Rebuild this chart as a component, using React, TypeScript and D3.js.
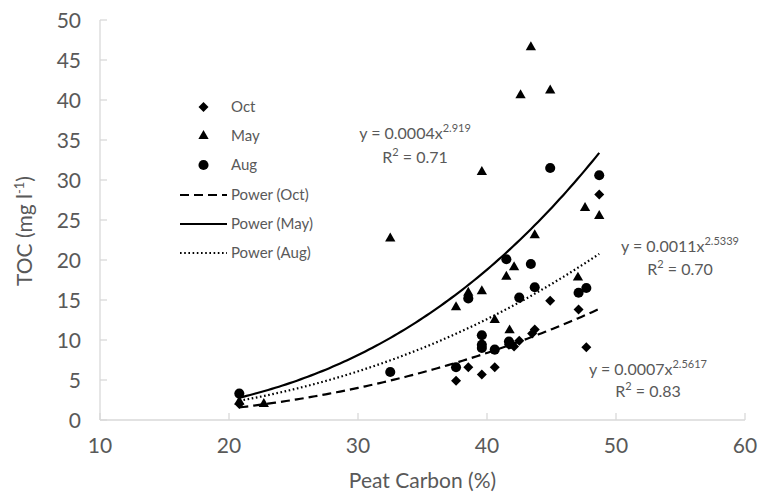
import React from "react";
import * as d3 from "d3";

// Peat carbon (%) vs TOC (mg l-1), three sampling months
const octX = [20.8, 37.6, 38.55, 39.6, 40.6, 41.7, 42.1, 42.5, 43.5, 43.7, 44.9, 47.1, 47.7, 48.7];
const octY = [2.0, 4.9, 6.6, 5.7, 6.6, 9.4, 9.2, 9.9, 10.8, 11.3, 14.9, 13.8, 9.1, 28.2];

const mayX = [20.8, 22.7, 32.5, 37.6, 38.55, 39.6, 39.6, 40.6, 41.5, 41.75, 42.1, 42.6, 43.4, 43.7, 44.9, 47.05, 47.6, 48.7];
const mayY = [2.3, 2.0, 22.7, 14.1, 15.9, 16.1, 31.0, 12.5, 17.9, 11.2, 19.1, 40.6, 46.6, 23.1, 41.2, 17.8, 26.5, 25.5];

const augX = [20.8, 32.5, 37.6, 38.55, 39.6, 39.6, 39.6, 40.6, 41.5, 41.7, 41.8, 42.5, 43.4, 43.7, 44.9, 47.1, 47.7, 48.7];
const augY = [3.3, 6.0, 6.6, 15.2, 10.6, 9.4, 9.0, 8.8, 20.1, 9.8, 9.5, 15.3, 19.5, 16.6, 31.5, 15.9, 16.5, 30.6];

// Power trendlines y = a * x^b (order: Oct, May, Aug)
const powerA = [0.00066, 0.000396, 0.0011];
const powerB = [2.5617, 2.919, 2.5339];
const rSquared = ["0.83", "0.71", "0.70"];
const fitRange = [20.8, 48.7];

const xTicks = [10, 20, 30, 40, 50, 60];
const yTicks = [0, 5, 10, 15, 20, 25, 30, 35, 40, 45, 50];

const legendLabels = ["Oct", "May", "Aug", "Power (Oct)", "Power (May)", "Power (Aug)"];

const W = 772;
const H = 493;
const textColor = "#595959";
const axisColor = "#d9d9d9";
const font = "Lato, 'Open Sans', sans-serif";

const x = d3.scaleLinear().domain([10, 60]).range([100, 745]);
const y = d3.scaleLinear().domain([0, 50]).range([420, 20]);

const diamond = d3.symbol(d3.symbolSquare, 50)()!;
const triangle = d3.symbol(d3.symbolTriangle, 46)()!;
const circle = d3.symbol(d3.symbolCircle, 80)()!;

const dashes = ["9,5", "none", "1.6,2.6"];

// Equation label anchors (centre x, baseline of first line, baseline of second line)
const eqPos = [
  { cx: 648, y1: 375, y2: 397 },
  { cx: 415, y1: 139, y2: 163 },
  { cx: 680, y1: 252, y2: 275 },
];

function Marker({ shape, px, py }: { shape: string; px: number; py: number }) {
  if (shape === "diamond") {
    return <path d={diamond} transform={`translate(${px},${py}) rotate(45)`} fill="#000" />;
  }
  if (shape === "triangle") {
    return <path d={triangle} transform={`translate(${px},${py})`} fill="#000" />;
  }
  return <path d={circle} transform={`translate(${px},${py})`} fill="#000" />;
}

export default function App() {
  const series = [
    { xs: octX, ys: octY, shape: "diamond" },
    { xs: mayX, ys: mayY, shape: "triangle" },
    { xs: augX, ys: augY, shape: "circle" },
  ];

  const fitXs = d3.range(0, 101).map((i) => fitRange[0] + ((fitRange[1] - fitRange[0]) * i) / 100);
  const trendPaths = powerA.map((a, k) =>
    d3
      .line<number>()
      .x((v) => x(v))
      .y((v) => y(a * Math.pow(v, powerB[k])))(fitXs)!
  );

  const legendShapes = ["diamond", "triangle", "circle"];
  const legendY = [107, 136, 165, 195, 224, 253];

  return (
    <svg
      width={W}
      height={H}
      style={{ position: "absolute", left: 0, top: 0, background: "#fff" }}
      fontFamily={font}
    >
      {/* axes */}
      <line x1={x(10)} x2={x(60)} y1={y(0)} y2={y(0)} stroke={axisColor} strokeWidth={1.3} />
      <line x1={x(10)} x2={x(10)} y1={y(0)} y2={y(50)} stroke={axisColor} strokeWidth={1.3} />
      {xTicks.map((t) => (
        <g key={"xt" + t}>
          <line x1={x(t)} x2={x(t)} y1={y(0)} y2={y(0) - 7} stroke={axisColor} strokeWidth={1.3} />
          <text x={x(t)} y={453} textAnchor="middle" fontSize={21} fill={textColor}>
            {t}
          </text>
        </g>
      ))}
      {yTicks.map((t) => (
        <g key={"yt" + t}>
          <line x1={x(10)} x2={x(10) + 7} y1={y(t)} y2={y(t)} stroke={axisColor} strokeWidth={1.3} />
          <text x={81} y={y(t) + 7.5} textAnchor="end" fontSize={21} fill={textColor}>
            {t}
          </text>
        </g>
      ))}

      {/* axis titles */}
      <text x={422.5} y={488} textAnchor="middle" fontSize={21} fill={textColor}>
        Peat Carbon (%)
      </text>
      <text
        transform="translate(32,231) rotate(-90)"
        textAnchor="middle"
        fontSize={21}
        fill={textColor}
      >
        TOC (mg l
        <tspan fontSize={13} dy={-8}>
          -1
        </tspan>
        <tspan dy={8}>)</tspan>
      </text>

      {/* power trendlines */}
      {trendPaths.map((d, k) => (
        <path
          key={"tr" + k}
          d={d}
          fill="none"
          stroke="#000"
          strokeWidth={2.2}
          strokeDasharray={dashes[k]}
        />
      ))}

      {/* observations */}
      {series.map((s, k) =>
        s.xs.map((v, i) => (
          <Marker key={`m${k}-${i}`} shape={s.shape} px={x(v)} py={y(s.ys[i])} />
        ))
      )}

      {/* equations */}
      {powerA.map((a, k) => (
        <g key={"eq" + k} fill={textColor} fontSize={16}>
          <text x={eqPos[k].cx} y={eqPos[k].y1} textAnchor="middle">
            {`y = ${a.toFixed(4)}x`}
            <tspan fontSize={11} dy={-7}>
              {String(powerB[k])}
            </tspan>
          </text>
          <text x={eqPos[k].cx} y={eqPos[k].y2} textAnchor="middle">
            R
            <tspan fontSize={11} dy={-7}>
              2
            </tspan>
            <tspan dy={7}>{` = ${rSquared[k]}`}</tspan>
          </text>
        </g>
      ))}

      {/* legend */}
      {legendLabels.map((label, i) => (
        <g key={"lg" + i}>
          {i < 3 ? (
            <Marker shape={legendShapes[i]} px={203.5} py={legendY[i]} />
          ) : (
            <line
              x1={180}
              x2={227}
              y1={legendY[i]}
              y2={legendY[i]}
              stroke="#000"
              strokeWidth={2.2}
              strokeDasharray={dashes[i - 3]}
            />
          )}
          <text x={231} y={legendY[i] + 5} fontSize={15} fill={textColor}>
            {label}
          </text>
        </g>
      ))}
    </svg>
  );
}
